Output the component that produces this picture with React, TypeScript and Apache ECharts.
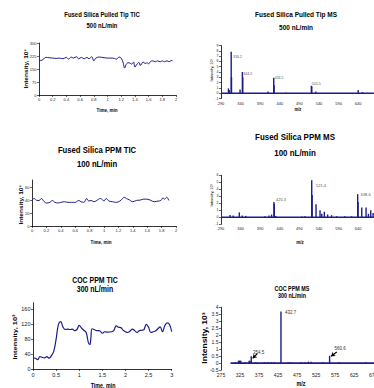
import React, { useEffect, useRef } from "react";
import * as echarts from "echarts";

const FONT = "'Liberation Sans', Arial, sans-serif";
const NAVY = "#1c1c8c";

// Panel 1: Fused Silica Pulled Tip TIC, 500 nL/min
const tic500Time = [0,0.03,0.06,0.1,0.15,0.2,0.25,0.3,0.35,0.4,0.43,0.47,0.5,0.55,0.58,0.62,0.66,0.7,0.73,0.77,0.8,0.83,0.88,0.95,1.0,1.05,1.1,1.13,1.17,1.2,1.23,1.25,1.27,1.3,1.33,1.35,1.38,1.4,1.43,1.46,1.48,1.52,1.55,1.58,1.6,1.63,1.66,1.7,1.73,1.77,1.8,1.83,1.87,1.9,1.93,1.95];
const tic500Int = [207,199,205,217,215,213,211,213,209,217,207,219,213,221,209,217,209,217,209,221,197,213,219,215,213,213,211,207,219,213,184,155,174,186,184,178,190,161,178,188,170,190,182,186,180,194,197,192,197,192,197,192,197,192,199,197];

// Panel 2: Fused Silica Pulled Tip MS, 500 nL/min
const ms500Mz = [309,311,316,316.8,338.6,344.5,345.5,410,424.5,425.5,455,520.5,521.5,532,640,651];
const ms500Int = [0.9,0.6,7.8,3.0,0.7,4.0,3.0,0.3,2.9,1.5,0.1,1.4,1.3,0.3,0.6,0.2];
const ms500Labels = ["316.2", "344.5", "424.5", "520.5"];
const ms500Baseline = [290, 680];

// Panel 3: Fused Silica PPM TIC, 100 nL/min
const tic100Time = [0,0.03,0.07,0.1,0.13,0.17,0.2,0.25,0.28,0.32,0.36,0.4,0.45,0.5,0.55,0.6,0.65,0.68,0.72,0.76,0.79,0.82,0.86,0.9,0.95,0.98,1.0,1.03,1.07,1.12,1.17,1.22,1.25,1.28,1.31,1.35,1.4,1.45,1.5,1.55,1.6,1.65,1.7,1.75,1.79,1.82,1.84,1.87,1.9];
const tic100Int = [40.5,43,40,40,43,38,36,37,40,37,36,37,38,37,37,37,40,38,37,43,39,40,38,40,43,41,39,43,39,38,37,39,42,45,43,41,38,40,40.5,42,42,40,38,39,40,44,42,45,40];

// Panel 4: Fused Silica PPM MS, 100 nL/min
const ms100Mz = [313,321,336.7,344,353,402,412.5,419,425,426,430,496,504,521.4,522.4,532.4,542.6,547,553.6,562,572,585,606,623,638.6,639.6,649,660,666,672,678];
const ms100Int = [0.33,0.25,0.7,0.25,0.2,0.15,0.25,0.4,2.2,1.9,0.2,0.1,0.15,5.3,3.2,1.85,1.0,0.5,0.8,0.4,0.3,0.15,0.15,0.15,3.3,2.2,1.4,1.4,0.5,1.0,0.6];
const ms100Labels = ["425.3", "521.4", "638.6"];
const ms100Baseline = [290, 680];

// Panel 5: COC PPM TIC, 300 nL/min
const tic300Time = [0,0.05,0.1,0.15,0.2,0.25,0.3,0.35,0.4,0.45,0.5,0.55,0.6,0.65,0.7,0.75,0.8,0.85,0.9,0.95,1.0,1.05,1.1,1.15,1.2,1.23,1.25,1.28,1.35,1.4,1.45,1.5,1.55,1.6,1.7,1.75,1.8,1.85,1.9,1.95,2.0,2.05,2.1,2.15,2.2,2.25,2.3,2.35,2.4,2.45,2.5,2.55,2.6,2.65,2.7,2.75,2.8,2.85,2.9,2.95,3.0];
const tic300Int = [30,29,25,33,31,30,33,29,36,48,80,120,127,112,106,107,106,107,103,106,117,110,104,98,70,66,80,108,104,103,102,96,100,99,100,104,116,112,111,104,100,98,102,107,103,98,103,104,106,120,112,98,100,102,108,113,100,116,124,120,100];

// Panel 6: COC PPM MS, 300 nL/min
const ms300Mz = [313.6,321,323,325,327,339,349,351,354.5,367,389,398,406.6,415,432.7,452,459,485.5,496,505,512,542.6,560.6,586,656.6];
const ms300Int = [0.05,0.17,0.17,0.17,0.17,0.05,0.17,0.17,0.48,0.05,0.05,0.05,0.05,0.05,3.69,0.05,0.05,0.05,0.05,0.1,0.1,0.05,0.52,0.05,0.05];
const ms300Labels = ["354.5", "432.7", "560.6"];
const ms300Baseline = [300, 680];

const txt = (x: number, y: number, text: string, size: number, bold = true, rot = 0, sx = 0.82, color = "#000") => ({
  type: "text",
  x,
  y,
  rotation: rot,
  scaleX: rot ? 1 : sx,
  scaleY: rot ? sx : 1,
  style: {
    text,
    fontSize: size,
    fontWeight: bold ? "bold" : "normal",
    fontFamily: FONT,
    fill: color,
    align: "center",
    verticalAlign: "middle",
  },
});

const axis = (gridIndex: number, min: number, max: number, interval: number, fs: number, showLine = true, hideMax = false) => ({
  type: "value",
  gridIndex,
  min,
  max,
  interval,
  splitLine: { show: false },
  axisLine: { show: showLine, onZero: false, lineStyle: { color: "#000", width: 0.8 } },
  axisTick: { show: true, length: 2, lineStyle: { color: "#000", width: 0.6 } },
  axisLabel: { fontSize: fs, color: "#222", margin: 2.5, fontFamily: FONT, showMaxLabel: hideMax ? false : undefined },
});

const lineSeries = (idx: number, xs: number[], ys: number[], width = 1) => ({
  type: "line",
  xAxisIndex: idx,
  yAxisIndex: idx,
  data: xs.map((x, i) => [x, ys[i]]),
  showSymbol: false,
  smooth: 0.4,
  lineStyle: { color: NAVY, width },
  silent: true,
});

const barSeries = (
  idx: number,
  xs: number[],
  ys: number[],
  labels: string[],
  offsets: number[][],
  fs: number,
  color = "#555"
) => ({
  type: "bar",
  xAxisIndex: idx,
  yAxisIndex: idx,
  barWidth: 1.4,
  itemStyle: { color: NAVY },
  data: xs.map((x, i) => {
    const li = labels.findIndex((l) => Math.abs(parseFloat(l) - x) < 1.1 && ys[i] > 0.4);
    const item: any = { value: [x, ys[i]] };
    if (li >= 0 && !xs.slice(0, i).some((px, j) => Math.abs(px - x) < 1.1 && ys[j] > 0.4)) {
      item.label = {
        show: true,
        formatter: labels[li],
        position: "top",
        distance: 0,
        align: "left",
        verticalAlign: "middle",
        offset: offsets[li],
        fontSize: fs,
        color,
        fontFamily: FONT,
      };
    }
    return item;
  }),
  silent: true,
});

const baseSeries = (idx: number, range: number[], width = 1.4) => ({
  type: "line",
  xAxisIndex: idx,
  yAxisIndex: idx,
  data: range.map((x) => [x, 0]),
  showSymbol: false,
  lineStyle: { color: NAVY, width },
  silent: true,
  z: 1,
});

export default function App() {
  const ref = useRef<HTMLDivElement>(null);
  useEffect(() => {
    if (!ref.current) return;
    const chart = echarts.init(ref.current, undefined, { renderer: "svg" });
    const grids = [
      { left: 39, top: 43, width: 137, height: 52 },
      { left: 221, top: 45.5, width: 152.9, height: 53 },
      { left: 32, top: 180, width: 144, height: 46 },
      { left: 221, top: 175.3, width: 152.9, height: 49 },
      { left: 33, top: 302.7, width: 138.7, height: 66.3 },
      { left: 221, top: 307.3, width: 154, height: 62.7 },
    ].map((g) => ({ ...g, containLabel: false, outerBoundsMode: "none" }));

    const xAxes = [
      axis(0, 0, 2, 0.2, 4),
      { ...axis(1, 290, 680, 50, 4, false, true), axisTick: { show: false } },
      axis(2, 0, 2, 0.2, 4),
      { ...axis(3, 290, 680, 50, 4, false, true), axisTick: { show: false } },
      axis(4, 0, 3, 0.5, 5.5),
      { ...axis(5, 275, 680, 50, 5, false, true), axisTick: { show: false } },
    ];
    const yAxes = [
      axis(0, 0, 300, 75, 4),
      axis(1, -1, 9, 1, 3.5),
      axis(2, 0, 72, 20, 4, true, true),
      axis(3, -1, 6, 1, 3.5),
      axis(4, 0, 178, 40, 5.5, true, true),
      axis(5, -0.5, 4, 0.5, 5),
    ];

    const p6 = barSeries(5, ms300Mz, ms300Int, ms300Labels, [[1.8, -3.9], [4, 1], [4.8, -6.9]], 4.5, "#333");
    (p6 as any).markLine = {
      silent: true,
      symbol: ["none", "arrow"],
      symbolSize: 4,
      label: { show: false },
      lineStyle: { color: "#000", width: 1.2, type: "solid" },
      data: [
        [{ coord: [370.5, 0.67] }, { coord: [358.4, 0.34] }],
        [{ coord: [579.5, 0.79] }, { coord: [564.5, 0.49] }],
      ],
    };

    chart.setOption({
      animation: false,
      grid: grids,
      xAxis: xAxes,
      yAxis: yAxes,
      series: [
        lineSeries(0, tic500Time, tic500Int, 1),
        barSeries(1, ms500Mz, ms500Int, ms500Labels, [[2, 5], [1, 2], [1, 0], [0.5, -2]], 3.5),
        baseSeries(1, ms500Baseline),
        lineSeries(2, tic100Time, tic100Int, 1),
        barSeries(3, ms100Mz, ms100Int, ms100Labels, [[2, -2], [4.3, 5], [3, 0]], 4),
        baseSeries(3, ms100Baseline),
        lineSeries(4, tic300Time, tic300Int, 1.2),
        p6,
        baseSeries(5, ms300Baseline, 1.8),
      ],
      graphic: [
        // Titles
        txt(102, 14, "Fused Silica Pulled Tip TIC", 7.2),
        txt(102, 25, "500 nL/min", 7.2),
        txt(296, 14, "Fused Silica Pulled Tip MS", 7.9),
        txt(296, 27, "500 nL/min", 7.9),
        txt(97, 150, "Fused Silica PPM TIC", 9.4),
        txt(97, 164, "100 nL/min", 9.4),
        txt(295, 137, "Fused Silica PPM MS", 9.7),
        txt(295, 153, "100 nL/min", 9.7),
        txt(95, 280, "COC PPM TIC", 8.5),
        txt(95, 289, "300 nL/min", 8.5),
        txt(292, 289, "COC PPM MS", 6.6),
        txt(292, 296, "300 nL/min", 6.6),
        // Axis titles
        txt(26, 69, "Intensity, 10³", 6.5, true, Math.PI / 2),
        txt(107, 110, "Time, min", 5.5),
        txt(212, 70, "Intensity, 10⁵", 4, false, Math.PI / 2),
        txt(298, 109, "m/z", 5),
        txt(21, 205, "Intensity, 10³", 6.5, true, Math.PI / 2),
        txt(101, 242, "Time, min", 5.5),
        txt(212, 195, "Intensity, 10⁵", 4, false, Math.PI / 2),
        txt(300, 242, "m/z", 5.5),
        txt(15, 337, "Intensity, 10³", 7.5, true, Math.PI / 2),
        txt(103, 386, "Time, min", 6.5),
        txt(205, 338, "Intensity, 10³", 8.5, true, Math.PI / 2),
        txt(301, 384, "m/z", 6.5),
      ],
    });
    return () => chart.dispose();
  }, []);
  return (
    <div
      ref={ref}
      style={{ position: "absolute", left: 0, top: 0, width: 374, height: 388, background: "#fff" }}
    />
  );
}
